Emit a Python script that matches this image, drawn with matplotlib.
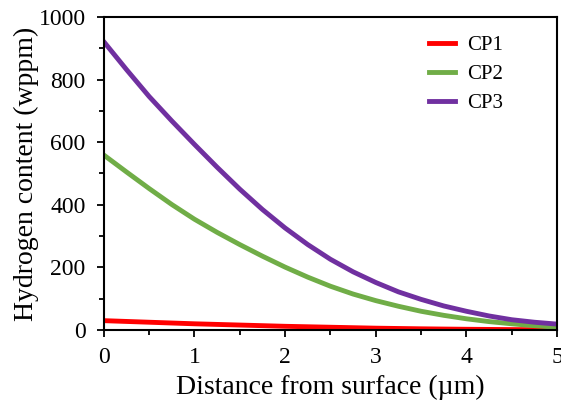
import matplotlib.pyplot as plt
from matplotlib.ticker import MultipleLocator

# 数据
distance = [0, 0.25, 0.5, 0.75, 1.0, 1.25, 1.5, 1.75, 2.0, 2.25, 2.5,
            2.75, 3.0, 3.25, 3.5, 3.75, 4.0, 4.25, 4.5, 4.75, 5.0]
cp1 = [30, 27.5, 25, 22.5, 20, 18, 16, 14, 12, 10.5, 9,
       7.5, 6, 5, 4, 3.2, 2.5, 2, 1.5, 1.1, 0.8]
cp2 = [559, 505, 452, 401, 354, 312, 273, 236, 201, 169, 140,
       115, 94, 76, 60, 47, 36, 27, 20, 14, 9]
cp3 = [921, 832, 746, 668, 593, 520, 450, 385, 326, 273, 226,
       186, 152, 122, 98, 77, 60, 45, 33, 25, 19]

plt.rcParams['font.family'] = ['Liberation Serif', 'DejaVu Serif']
plt.rcParams['xtick.labelsize'] = 17
plt.rcParams['ytick.labelsize'] = 17

fig = plt.figure(figsize=(5.61, 4.03), dpi=100)
ax = fig.add_axes([0.185, 0.181, 0.808, 0.777])

ax.plot(distance, cp1, color='#FF0000', lw=3.5, label='CP1')
ax.plot(distance, cp2, color='#70AD47', lw=3.5, label='CP2')
ax.plot(distance, cp3, color='#7030A0', lw=3.5, label='CP3')

ax.set_xlim(0, 5)
ax.set_ylim(0, 1000)
ax.xaxis.set_major_locator(MultipleLocator(1))
ax.xaxis.set_minor_locator(MultipleLocator(0.5))
ax.yaxis.set_major_locator(MultipleLocator(200))
ax.yaxis.set_minor_locator(MultipleLocator(100))
ax.tick_params(which='major', direction='out', length=5, width=1.3, colors='black')
ax.tick_params(which='minor', direction='out', length=3.5, width=1.3)
ax.tick_params(axis='x', which='major', pad=7)
ax.tick_params(axis='y', which='major', pad=8)

for s in ax.spines.values():
    s.set_linewidth(1.5)
    s.set_color('black')

ax.set_xlabel('Distance from surface (µm)', fontsize=20, labelpad=5)
ax.set_ylabel('Hydrogen content (wppm)', fontsize=20, labelpad=0)

ax.legend(loc='upper left', bbox_to_anchor=(0.717, 0.94), frameon=False, fontsize=15,
          handlelength=1.25, handletextpad=0.6, labelspacing=0.45, borderpad=0, borderaxespad=0)

plt.savefig('out.png', dpi=100)
